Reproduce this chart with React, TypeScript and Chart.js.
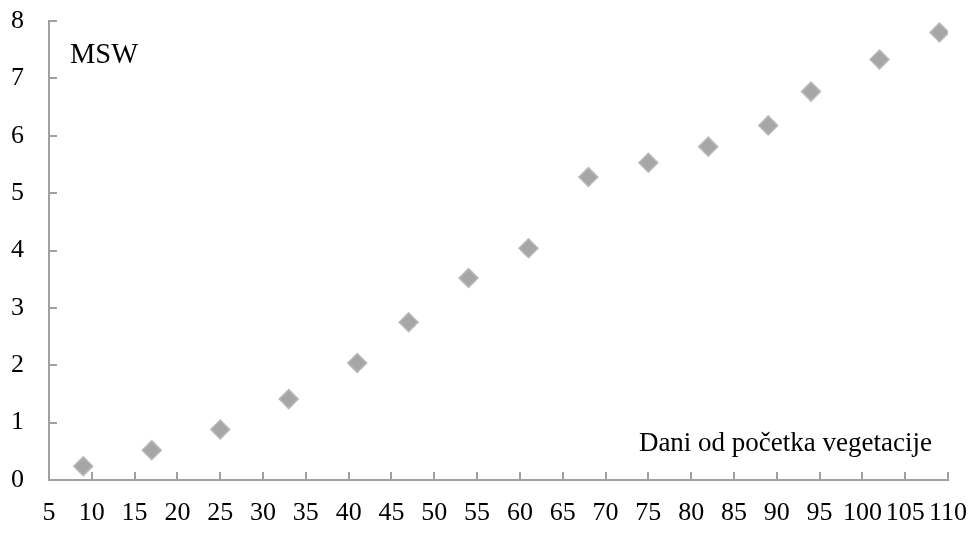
import React, { useEffect, useRef } from "react";
import { Chart, registerables } from "chart.js";

Chart.register(...registerables);

const days = [9, 17, 25, 33, 41, 47, 54, 61, 68, 75, 82, 89, 94, 102, 109];
const msw = [0.24, 0.52, 0.88, 1.41, 2.04, 2.75, 3.52, 4.04, 5.28, 5.53, 5.81, 6.18, 6.77, 7.33, 7.8];
const yLabel = "MSW";
const xLabel = "Dani od početka vegetacije";

const FONT = "'Liberation Serif', 'Times New Roman', serif";
const AXIS_COLOR = "#a0a0a0";

const innerTicks = {
  id: "innerTicks",
  afterDatasetsDraw(chart: any) {
    const ctx = chart.ctx;
    const x = chart.scales.x;
    const y = chart.scales.y;
    const area = chart.chartArea;
    ctx.save();
    ctx.strokeStyle = AXIS_COLOR;
    ctx.lineWidth = 2;
    ctx.beginPath();
    x.ticks.forEach((t: any) => {
      const px = Math.round(x.getPixelForValue(t.value));
      ctx.moveTo(px, area.bottom);
      ctx.lineTo(px, area.bottom - 8);
    });
    y.ticks.forEach((t: any) => {
      const py = Math.round(y.getPixelForValue(t.value));
      ctx.moveTo(area.left, py);
      ctx.lineTo(area.left + 8, py);
    });
    ctx.stroke();
    ctx.fillStyle = "#000";
    ctx.textBaseline = "alphabetic";
    ctx.font = `28.5px ${FONT}`;
    ctx.textAlign = "left";
    ctx.fillText(yLabel, area.left + 21, 63);
    ctx.font = `27px ${FONT}`;
    ctx.textAlign = "right";
    ctx.fillText(xLabel, area.right - 16, 451);
    ctx.restore();
  },
};

export default function App() {
  const ref = useRef<HTMLCanvasElement>(null);
  useEffect(() => {
    if (!ref.current) return;
    const chart = new Chart(ref.current, {
      type: "scatter",
      data: {
        datasets: [
          {
            data: days.map((d, i) => ({ x: d, y: msw[i] })),
            pointStyle: "rectRot",
            pointRadius: 9.5,
            backgroundColor: "#a6a6a6",
            borderColor: "#bababa",
            borderWidth: 1.5,
          },
        ],
      },
      options: {
        animation: false,
        responsive: false,
        layout: { padding: { top: 21, right: 23, left: 0, bottom: 0 } },
        plugins: { legend: { display: false }, tooltip: { enabled: false } },
        scales: {
          x: {
            type: "linear",
            min: 5,
            max: 110,
            ticks: {
              stepSize: 5,
              autoSkip: false,
              maxRotation: 0,
              color: "#000",
              padding: 18,
              font: { family: FONT, size: 26 },
            },
            grid: { display: false, drawTicks: false },
            border: { display: true, color: AXIS_COLOR, width: 2 },
            afterFit: (s: any) => {
              s.height = 53;
              s.paddingLeft = 0;
              s.paddingRight = 0;
            },
          },
          y: {
            type: "linear",
            min: 0,
            max: 8,
            ticks: {
              stepSize: 1,
              color: "#000",
              padding: 25,
              font: { family: FONT, size: 26 },
            },
            grid: { display: false, drawTicks: false },
            border: { display: true, color: AXIS_COLOR, width: 2 },
            afterFit: (s: any) => {
              s.width = 49;
              s.paddingTop = 0;
              s.paddingBottom = 0;
            },
          },
        },
      },
      plugins: [innerTicks],
    });
    return () => chart.destroy();
  }, []);
  return (
    <div style={{ position: "absolute", left: 0, top: 0, width: 971, height: 533, background: "#fff" }}>
      <canvas ref={ref} width={971} height={533} />
    </div>
  );
}
